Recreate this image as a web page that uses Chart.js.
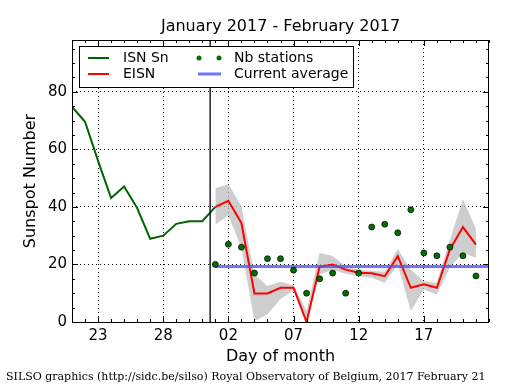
<!DOCTYPE html>
<html>
<head>
<meta charset="utf-8">
<script src="https://cdn.jsdelivr.net/npm/chart.js@4.4.0/dist/chart.umd.min.js"></script>
<style>
html, body { margin: 0; padding: 0; background: #fff; }
</style>
</head>
<body>
<canvas id="myChart" width="515" height="390"></canvas>
<script>
// index 0 = 21 January 2017, index 32 = 22 February 2017
var dayLabels = ["21","22","23","24","25","26","27","28","29","30","31",
                 "01","02","03","04","05","06","07","08","09","10","11",
                 "12","13","14","15","16","17","18","19","20","21","22"];
var majorLabels = ["23","28","02","07","12","17"];
var yTickLabels = [0, 20, 40, 60, 80];

// ISN Sn (Jan 21 .. Feb 1)
var isnStart = 0;
var isnValues = [74.8, 69.6, 56.0, 43.1, 47.1, 39.6, 28.9, 30.0, 34.1, 35.0, 35.0, 40.0];

// EISN and stations (Feb 1 .. Feb 21)
var eisnStart = 11;
var eisnValues = [40.0, 42.1, 34.4, 9.9, 9.9, 11.9, 11.9, 0, 19.2, 20.0, 18.2,
                  17.1, 16.9, 15.9, 22.9, 11.9, 13.1, 11.9, 25.2, 33.0, 26.9];
var eisnUpper  = [46.5, 47.9, 40.2, 16.5, 12.5, 14.0, 12.8, 3.8, 24.0, 22.9, 19.4,
                  18.2, 17.7, 17.5, 25.4, 18.2, 14.2, 13.6, 28.6, 42.7, 32.3];
var eisnLower  = [33.8, 37.0, 25.8, 0.3, 2.7, 8.0, 11.0, 0, 16.5, 18.2, 16.8,
                  15.9, 15.4, 13.6, 20.0, 3.8, 11.3, 9.6, 19.0, 24.0, 22.3];
var stations   = [20, 27, 26, 17, 22, 22, 18, 10, 15, 17, 10,
                  17, 33, 34, 31, 39, 24, 23, 26, 23, 16];

var currentAverage = 19.3;
var splitDay = 10.6;   // end of January marker
var yMax = 98;

function toPoints(start, values) {
    return values.map(function (v, i) { return { x: start + i, y: v }; });
}

var majorIdx = majorLabels.map(function (l) { return dayLabels.indexOf(l); });

var datasets = [
    {
        label: "lower",
        data: toPoints(eisnStart, eisnLower),
        borderWidth: 0, pointRadius: 0, fill: false, order: 10
    },
    {
        label: "band",
        data: toPoints(eisnStart, eisnUpper),
        borderWidth: 0, pointRadius: 0, fill: "-1",
        backgroundColor: "rgba(190,190,190,0.75)", order: 9
    },
    {
        label: "ISN Sn",
        data: toPoints(isnStart, isnValues),
        borderColor: "#006400", borderWidth: 2, pointRadius: 0, fill: false, order: 8
    },
    {
        label: "EISN",
        data: toPoints(eisnStart, eisnValues),
        borderColor: "#ff0000", borderWidth: 2, pointRadius: 0, fill: false, order: 7
    },
    {
        label: "Current average",
        data: [{ x: eisnStart, y: currentAverage }, { x: dayLabels.length - 1, y: currentAverage }],
        borderColor: "rgba(80,80,255,0.8)", borderWidth: 3, pointRadius: 0, fill: false, order: 6
    },
    {
        label: "Nb stations",
        data: toPoints(eisnStart, stations),
        showLine: false, pointRadius: 3, pointBackgroundColor: "#007000",
        pointBorderColor: "#000", pointBorderWidth: 0.7, order: 5
    },
    {
        label: "split",
        data: [{ x: splitDay, y: 0 }, { x: splitDay, y: yMax }],
        borderColor: "#000", borderWidth: 1.3, pointRadius: 0, fill: false, order: 4
    }
];

var framePlugin = {
    id: "frame",
    afterDatasetsDraw: function (chart) {
        var ctx = chart.ctx, a = chart.chartArea;
        var xs = chart.scales.x, ys = chart.scales.y;
        ctx.save();
        ctx.strokeStyle = "#000";
        ctx.lineWidth = 1;
        ctx.strokeRect(a.left + 0.5, a.top + 0.5, a.right - a.left - 1, a.bottom - a.top);
        ctx.beginPath();
        xs.ticks.forEach(function (t) {
            var px = Math.round(xs.getPixelForValue(t.value)) + 0.5;
            var len = majorIdx.indexOf(t.value) >= 0 ? 6 : 3;
            ctx.moveTo(px, a.bottom); ctx.lineTo(px, a.bottom - len);
            ctx.moveTo(px, a.top); ctx.lineTo(px, a.top + len);
        });
        ys.ticks.forEach(function (t) {
            var py = Math.round(ys.getPixelForValue(t.value)) + 0.5;
            var len = t.value % 20 === 0 ? 6 : 3;
            ctx.moveTo(a.left, py); ctx.lineTo(a.left + len, py);
            ctx.moveTo(a.right, py); ctx.lineTo(a.right - len, py);
        });
        ctx.stroke();

        // legend
        var lx = 79, ly = 46, lw = 274, lh = 41;
        ctx.fillStyle = "#fff";
        ctx.fillRect(lx, ly, lw, lh);
        ctx.strokeRect(lx + 0.5, ly + 0.5, lw, lh);
        ctx.font = "14px 'DejaVu Sans'";
        ctx.textBaseline = "middle";
        ctx.textAlign = "left";
        var ds = chart.data.datasets;
        var rows = [58, 74];
        ctx.lineWidth = 2;
        ctx.strokeStyle = ds[2].borderColor;
        ctx.beginPath(); ctx.moveTo(88, rows[0]); ctx.lineTo(109, rows[0]); ctx.stroke();
        ctx.strokeStyle = ds[3].borderColor;
        ctx.beginPath(); ctx.moveTo(88, rows[1]); ctx.lineTo(109, rows[1]); ctx.stroke();
        ctx.lineWidth = 3;
        ctx.strokeStyle = ds[4].borderColor;
        ctx.beginPath(); ctx.moveTo(198, rows[1]); ctx.lineTo(221, rows[1]); ctx.stroke();
        ctx.fillStyle = ds[5].pointBackgroundColor;
        [199, 219].forEach(function (cx) {
            ctx.beginPath(); ctx.arc(cx, rows[0], 2.5, 0, Math.PI * 2); ctx.fill();
        });
        ctx.fillStyle = "#000";
        ctx.fillText(ds[2].label, 123, rows[0]);
        ctx.fillText(ds[3].label, 123, rows[1]);
        ctx.fillText(ds[5].label, 234, rows[0]);
        ctx.fillText(ds[4].label, 234, rows[1]);
        ctx.restore();
    },
    afterDraw: function (chart) {
        var ctx = chart.ctx, a = chart.chartArea;
        ctx.save();
        ctx.fillStyle = "#000";
        ctx.textAlign = "center";
        ctx.textBaseline = "middle";
        ctx.font = "16px 'DejaVu Sans'";
        ctx.fillText("January 2017 - February 2017", (a.left + a.right) / 2, 27);
        ctx.fillText("Day of month", (a.left + a.right) / 2, 357);
        ctx.save();
        ctx.translate(31, (a.top + a.bottom) / 2);
        ctx.rotate(-Math.PI / 2);
        ctx.fillText("Sunspot Number", 0, 0);
        ctx.restore();
        ctx.textAlign = "left";
        ctx.font = "11px 'DejaVu Serif'";
        ctx.fillText("SILSO graphics (http://sidc.be/silso) Royal Observatory of Belgium, 2017 February 21", 6, 377);
        ctx.restore();
    }
};

var myChart = new Chart(document.getElementById("myChart"), {
    type: "line",
    data: { datasets: datasets },
    plugins: [framePlugin],
    options: {
        responsive: false,
        animation: false,
        devicePixelRatio: 1,
        layout: { padding: { left: 0, top: 40, right: 26, bottom: 0 } },
        plugins: { legend: { display: false }, tooltip: { enabled: false }, title: { display: false } },
        elements: { line: { tension: 0 } },
        scales: {
            x: {
                type: "linear", min: 0, max: dayLabels.length - 1,
                afterBuildTicks: function (s) {
                    s.ticks = dayLabels.map(function (d, i) { return { value: i }; });
                },
                afterFit: function (s) { s.height = 68; },
                ticks: {
                    autoSkip: false, maxRotation: 0, padding: 5,
                    color: "#000", font: { family: "DejaVu Sans", size: 15 },
                    callback: function (v) { return majorIdx.indexOf(v) >= 0 ? dayLabels[v] : ""; }
                },
                grid: {
                    drawTicks: false,
                    color: function (c) { return c.tick && majorIdx.indexOf(c.tick.value) >= 0 ? "#000" : "rgba(0,0,0,0)"; }
                },
                border: { display: false, dash: [1, 3] }
            },
            y: {
                type: "linear", min: 0, max: yMax,
                afterBuildTicks: function (s) {
                    var t = [];
                    for (var v = 0; v < yMax; v += 5) t.push({ value: v });
                    s.ticks = t;
                },
                afterFit: function (s) { s.width = 72; },
                ticks: {
                    autoSkip: false, padding: 5,
                    color: "#000", font: { family: "DejaVu Sans", size: 15 },
                    callback: function (v) { return yTickLabels.indexOf(v) >= 0 ? String(v) : ""; }
                },
                grid: {
                    drawTicks: false,
                    color: function (c) { return c.tick && c.tick.value % 20 === 0 && c.tick.value > 0 ? "#000" : "rgba(0,0,0,0)"; }
                },
                border: { display: false, dash: [1, 3] }
            }
        }
    }
});
</script>
</body>
</html>
